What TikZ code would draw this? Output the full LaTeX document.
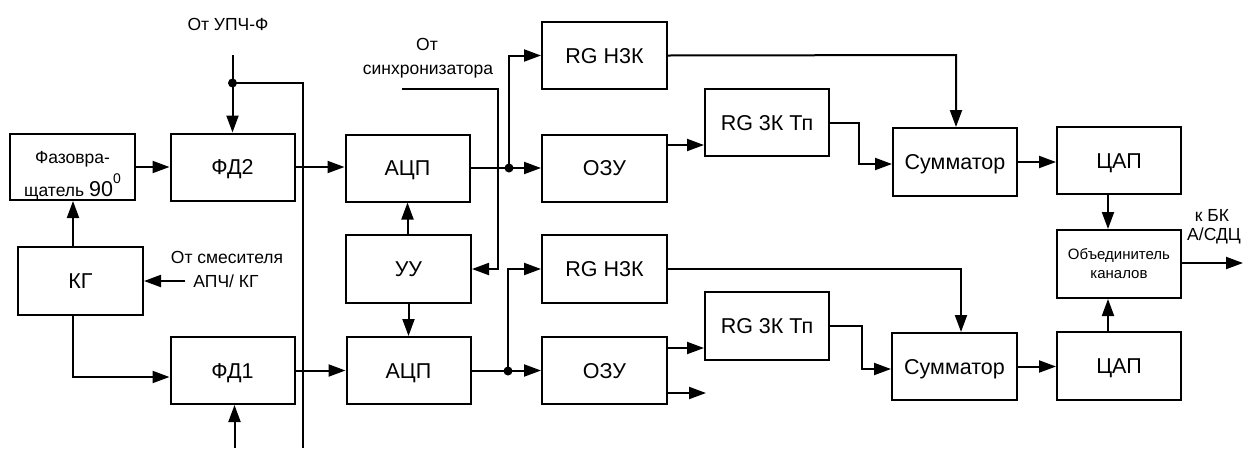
\documentclass[tikz,border=0pt]{standalone}
\usepackage{fontspec}
\setmainfont{Liberation Sans}
\usetikzlibrary{arrows.meta}
\tikzset{
  boxbase/.style={draw, line width=2pt, minimum width=124pt, minimum height=67pt, inner sep=0pt},
  box/.style={boxbase, font=\fontsize{21.5}{24}\selectfont, text height=15.4pt, text depth=0pt},
  conn/.style={line width=2pt},
  arr/.style={conn, -{Triangle[length=17pt,width=12pt]}},
  lbl/.style={font=\fontsize{17.5}{21}\selectfont, inner sep=0pt, anchor=base},
  jdot/.style={circle, fill, inner sep=0pt, minimum size=9pt}
}
\begin{document}
\begin{tikzpicture}[x=1pt,y=-1pt]
\useasboundingbox (0,0) rectangle (1256,448);
% boxes
\node[boxbase, minimum width=125pt, minimum height=66pt] (faz) at (72.5,167) {};
\node[lbl] (faz1) at (72.5,163) {Фазовра-};
\node[lbl] (faz2) at (72.5,196) {щатель {\fontsize{21.5}{24}\selectfont 90}\raisebox{13pt}{\fontsize{14}{14}\selectfont 0}};
\node[box, minimum width=125pt, minimum height=68pt] (kg) at (80.5,281) {КГ};
\node[box] (fd2) at (232.5,167) {ФД2};
\node[box] (fd1) at (232.5,370.5) {ФД1};
\node[box] (adc1) at (407.5,168) {АЦП};
\node[box, minimum width=125pt, minimum height=68pt] (uu) at (408.5,269) {УУ};
\node[box] (adc2) at (408.5,370.5) {АЦП};
\node[box, minimum width=125pt] (rgn1) at (604.5,55.5) {RG Н3К};
\node[box, minimum width=125pt] (ozu1) at (604.5,168) {ОЗУ};
\node[box] (rgz1) at (767,122.5) {RG 3К Тп};
\node[box, minimum height=68pt] (sum1) at (955,162) {Сумматор};
\node[box] (dac1) at (1119,160.5) {ЦАП};
\node[boxbase, minimum height=68pt, align=center, font=\fontsize{15}{19}\selectfont] (obj) at (1119,264) {Объединитель\\каналов};
\node[box, minimum width=125pt, minimum height=68pt] (rgn2) at (604.5,269) {RG Н3К};
\node[box, minimum width=125pt] (ozu2) at (604.5,370.5) {ОЗУ};
\node[box, minimum height=68pt] (rgz2) at (767,326) {RG 3К Тп};
\node[box, minimum width=125pt] (sum2) at (954.5,366.5) {Сумматор};
\node[box, minimum height=68pt] (dac2) at (1119,366) {ЦАП};
% labels
\node[lbl] (tupch) at (228,30) {От УПЧ-Ф};
\node[lbl] (tsync1) at (427,50) {От};
\node[lbl] (tsync2) at (428,74) {синхронизатора};
\node[lbl] (tmix1) at (227,263) {От смесителя};
\node[lbl] (tmix2) at (226,287) {АПЧ/ КГ};
\node[lbl] (tout1) at (1212,221) {к БК};
\node[lbl] (tout2) at (1214,240) {А/СДЦ};
% coordinates
\coordinate (upch) at (232.5,55);
\node[jdot] (d0) at (232.5,83) {};
\coordinate (c1) at (303,83);
\coordinate (c2) at (303,448);
\coordinate (bin) at (234.5,448);
\coordinate (mix) at (185,281);
\coordinate (kgx) at (73,0);
\coordinate (kgc) at (73,377);
\coordinate (s1) at (402,89);
\coordinate (s2) at (498,89);
\node[jdot] (d1) at (509,168) {};
\node[jdot] (d2) at (508,371) {};
\coordinate (r1) at (859,123);
\coordinate (r1b) at (859,164);
\coordinate (n1) at (956,55);
\coordinate (r2) at (862,326);
\coordinate (r2b) at (862,369);
\coordinate (n2) at (961,269);
\coordinate (ox) at (1108,0);
\coordinate (out) at (1243,263);
\coordinate (free) at (706,393);
% connectors
\draw[arr] (faz.east) -- (fd2.west);
\draw[arr] (kgx |- kg.north) -- (kgx |- faz.south);
\draw[arr] (mix) -- (kg.east);
\draw[arr] (kgx |- kg.south) -- (kgc) -- (kgc -| fd1.west);
\draw[arr] (upch) -- (fd2.north);
\draw[conn] (d0.center) -- (c1) -- (c2);
\draw[arr] (bin) -- (bin |- fd1.south);
\draw[arr] (fd2.east) -- (fd2.east -| adc1.west);
\draw[arr] (fd1.east) -- (fd1.east -| adc2.west);
\draw[arr] (s1) -- (s2) -- (s2 |- uu.east) -- (uu.east);
\draw[arr] (uu.north -| adc1.south) -- (adc1.south);
\draw[arr] (uu.south) -- (adc2.north);
\draw[arr] (adc1.east) -- (ozu1.west);
\draw[arr] (d1.center) -- (d1.center |- rgn1.west) -- (rgn1.west);
\draw[arr] (adc2.east) -- (adc2.east -| ozu2.west);
\draw[arr] (d2.center) -- (d2.center |- rgn2.west) -- (rgn2.west);
\draw[arr] (ozu1.east |- 0,145) -- (rgz1.west |- 0,145);
\draw[arr] (rgz1.east |- r1) -- (r1) -- (r1b) -- (r1b -| sum1.west);
\draw[arr] (rgn1.east) -- (n1) -- (n1 |- sum1.north);
\draw[arr] (sum1.east) -- (sum1.east -| dac1.west);
\draw[arr] (ox |- dac1.south) -- (ox |- obj.north);
\draw[arr] (ox |- dac2.north) -- (ox |- obj.south);
\draw[arr] (obj.east |- out) -- (out);
\draw[arr] (ozu2.east |- 0,348) -- (rgz2.west |- 0,348);
\draw[arr] (ozu2.east |- free) -- (free);
\draw[arr] (rgz2.east) -- (r2) -- (r2b) -- (r2b -| sum2.west);
\draw[arr] (rgn2.east) -- (n2) -- (n2 |- sum2.north);
\draw[arr] (sum2.east) -- (sum2.east -| dac2.west);
\end{tikzpicture}
\end{document}
